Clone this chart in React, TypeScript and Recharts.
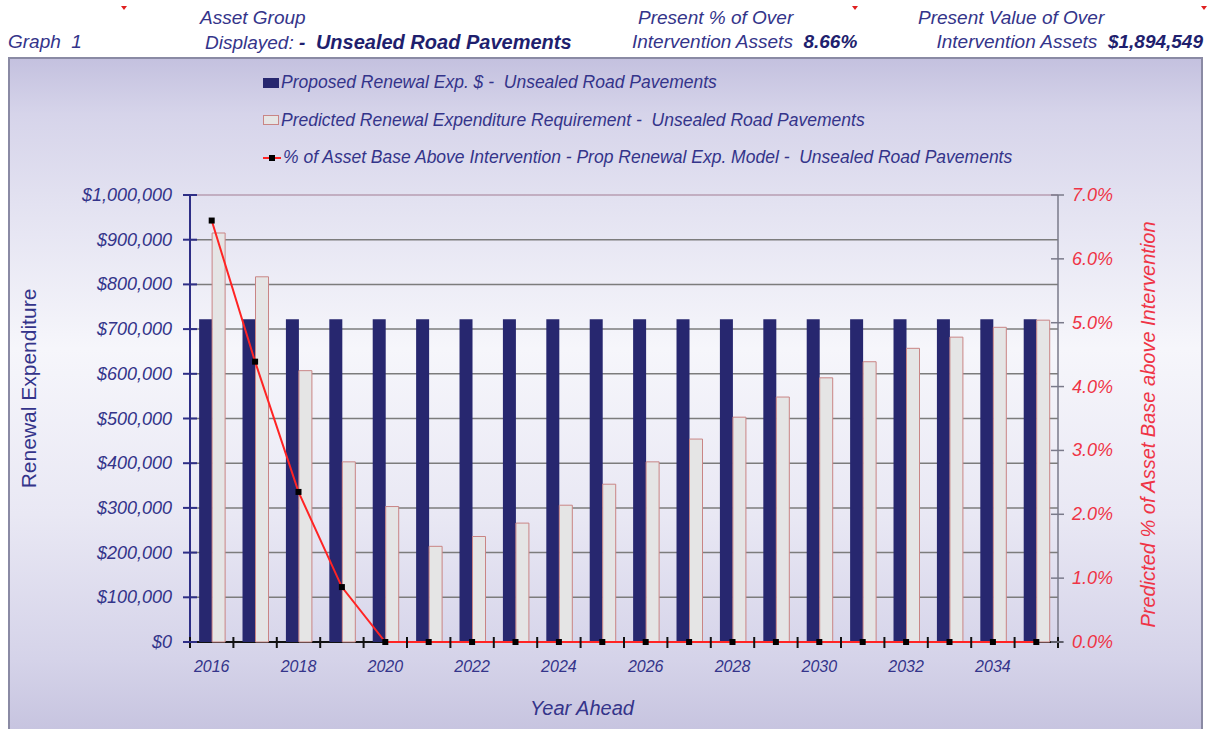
import React from 'react';
import {
  ComposedChart,
  Bar,
  Line,
  XAxis,
  YAxis,
  CartesianGrid,
  Legend,
  Label,
} from 'recharts';

// ---- data -------------------------------------------------------------
const years = [
  '2016', '2017', '2018', '2019', '2020', '2021', '2022', '2023', '2024', '2025',
  '2026', '2027', '2028', '2029', '2030', '2031', '2032', '2033', '2034', '2035',
];

// Proposed renewal expenditure ($) per year
const proposedRenewal = [
  722000, 722000, 722000, 722000, 722000, 722000, 722000, 722000, 722000, 722000,
  722000, 722000, 722000, 722000, 722000, 722000, 722000, 722000, 722000, 722000,
];

// Predicted renewal expenditure requirement ($) per year
const predictedRequirement = [
  915000, 817000, 607000, 403000, 303000, 214000, 236000, 266000, 306000, 353000,
  403000, 454000, 503000, 548000, 591000, 627000, 657000, 682000, 704000, 720000,
];

// % of asset base above intervention (proposed renewal expenditure model)
const pctAboveIntervention = [
  6.6, 4.39, 2.35, 0.86, 0, 0, 0, 0, 0, 0,
  0, 0, 0, 0, 0, 0, 0, 0, 0, 0,
];

const expenditureTicks = [0, 100000, 200000, 300000, 400000, 500000, 600000, 700000, 800000, 900000, 1000000];
const pctTicks = [0, 1, 2, 3, 4, 5, 6, 7];

const assetGroup = 'Unsealed Road Pavements';
const presentPct = '8.66%';
const presentValue = '$1,894,549';

const seriesNames = {
  proposed: `Proposed Renewal Exp. $ -  ${assetGroup}`,
  predicted: `Predicted Renewal Expenditure Requirement -  ${assetGroup}`,
  pct: `% of Asset Base Above Intervention - Prop Renewal Exp. Model -  ${assetGroup}`,
};

const rows = years.map((year, i) => ({
  year,
  proposed: proposedRenewal[i],
  predicted: predictedRequirement[i],
  pct: pctAboveIntervention[i],
}));

// ---- styles -----------------------------------------------------------
const FONT = '"Liberation Sans", Arial, Helvetica, sans-serif';
const NAVY_TEXT = '#34348a';
const NAVY_BOLD = '#1f1f6e';
const NAVY_BAR = '#27276f';
const NAVY_AXIS = '#2e2e86';
const LIGHT_BAR = '#e5e5e5';
const LIGHT_BAR_EDGE = '#c98585';
const RED = '#ff2424';
const RED_TEXT = '#ef3446';
const GRID = '#7c7c7c';
const GRID_TOP = '#b79cb2';
const BASE_LINE = '#111';

const money = (v: number) => `$${v.toLocaleString('en-US')}`;

// ---- grid: bottom line doubles as the category axis line, top line is mauve
const GridLine = (props: any) => {
  const { x1, x2, y1, y2, y, height, index } = props;
  const top = typeof y === 'number' ? y : undefined;
  const bottom = typeof y === 'number' && typeof height === 'number' ? y + height : undefined;
  const isBottom = bottom !== undefined ? Math.abs(y1 - bottom) < 1 : index === 0;
  const isTop = top !== undefined ? Math.abs(y1 - top) < 1 : index === expenditureTicks.length - 1;
  const stroke = isBottom ? BASE_LINE : isTop ? GRID_TOP : GRID;
  const extra = isBottom ? 5 : 0;
  return <line x1={x1} x2={x2 + extra} y1={y1} y2={y2} stroke={stroke} strokeWidth={isBottom ? 2 : 1.5} fill="none" />;
};

// ---- axis ticks -------------------------------------------------------
const LeftTick = (props: any) => {
  const { x, y, payload } = props;
  const axisX = x + 18;
  return (
    <g>
      <line x1={axisX - 7} x2={axisX + 7} y1={y} y2={y} stroke={NAVY_AXIS} strokeWidth={2} />
      <text x={x} y={y} dy={6} textAnchor="end" fontFamily={FONT} fontStyle="italic" fontSize={18} fill={NAVY_TEXT}>
        {money(payload.value)}
      </text>
    </g>
  );
};

const RightTick = (props: any) => {
  const { x, y, payload } = props;
  const axisX = x - 14;
  return (
    <g>
      <line x1={axisX - 7} x2={axisX + 6} y1={y} y2={y} stroke="#7a7a8a" strokeWidth={1.5} />
      <text x={x} y={y} dy={6} textAnchor="start" fontFamily={FONT} fontStyle="italic" fontSize={18} fill={RED_TEXT}>
        {`${payload.value.toFixed(1)}%`}
      </text>
    </g>
  );
};

const YearTick = (props: any) => {
  const { x, y, payload, index, width, visibleTicksCount } = props;
  const count = visibleTicksCount ?? years.length;
  const step = (width ?? 868) / count;
  const left = x - step / 2;
  const isLast = index === count - 1;
  return (
    <g>
      <line x1={left} x2={left} y1={y - 5} y2={y + 6} stroke={BASE_LINE} strokeWidth={2} />
      {isLast && <line x1={x + step / 2} x2={x + step / 2} y1={y - 5} y2={y + 6} stroke={BASE_LINE} strokeWidth={2} />}
      {index % 2 === 0 && (
        <text x={x} y={y} dy={30} textAnchor="middle" fontFamily={FONT} fontStyle="italic" fontSize={16} fill={NAVY_TEXT}>
          {payload.value}
        </text>
      )}
    </g>
  );
};

const SquareDot = (props: any) => {
  const { cx, cy, index } = props;
  if (cx == null || cy == null) return <g key={index} />;
  return <rect key={index} x={cx - 3} y={cy - 3} width={6} height={6} fill="#000" />;
};

// ---- axis titles ------------------------------------------------------
const LeftTitle = (props: any) => {
  const { viewBox } = props;
  const cx = viewBox.x + 29;
  const cy = viewBox.y + viewBox.height / 2 - 30;
  return (
    <text x={cx} y={cy} transform={`rotate(-90 ${cx} ${cy})`} textAnchor="middle" dy={7}
      fontFamily={FONT} fontSize={21} fill={NAVY_TEXT}>
      Renewal Expenditure
    </text>
  );
};

const RightTitle = (props: any) => {
  const { viewBox } = props;
  const cx = viewBox.x + 90;
  const cy = viewBox.y + viewBox.height / 2 + 6;
  return (
    <text x={cx} y={cy} transform={`rotate(-90 ${cx} ${cy})`} textAnchor="middle" dy={7}
      fontFamily={FONT} fontStyle="italic" fontSize={20} fill={RED_TEXT}>
      Predicted % of Asset Base above Intervention
    </text>
  );
};

const BottomTitle = (props: any) => {
  const { viewBox } = props;
  return (
    <text x={viewBox.x + viewBox.width / 2 - 42} y={viewBox.y + 73} textAnchor="middle"
      fontFamily={FONT} fontStyle="italic" fontSize={20} fill={NAVY_TEXT}>
      Year Ahead
    </text>
  );
};

// ---- legend -----------------------------------------------------------
const LegendContent = () => {
  const row: React.CSSProperties = { display: 'flex', alignItems: 'center', height: 37.5, whiteSpace: 'pre' };
  return (
    <div style={{ fontFamily: FONT, fontStyle: 'italic', fontSize: 17.5, color: NAVY_TEXT }}>
      <div style={row}>
        <span style={{ display: 'inline-block', width: 16, height: 10, background: NAVY_BAR, marginRight: 2 }} />
        <span>{seriesNames.proposed}</span>
      </div>
      <div style={row}>
        <span style={{ display: 'inline-block', width: 14, height: 8, background: LIGHT_BAR, border: `1px solid ${LIGHT_BAR_EDGE}`, marginRight: 2 }} />
        <span>{seriesNames.predicted}</span>
      </div>
      <div style={row}>
        <svg width={18} height={10} style={{ marginRight: 2 }}>
          <line x1={0} x2={18} y1={5} y2={5} stroke={RED} strokeWidth={2} />
          <rect x={6} y={2} width={6} height={6} fill="#000" />
        </svg>
        <span>{seriesNames.pct}</span>
      </div>
    </div>
  );
};

// ---- header -----------------------------------------------------------
const headerText: React.CSSProperties = {
  position: 'absolute',
  fontFamily: FONT,
  fontStyle: 'italic',
  fontSize: 19,
  color: NAVY_TEXT,
  whiteSpace: 'nowrap',
  lineHeight: '22px',
};
const bold: React.CSSProperties = { fontWeight: 'bold', color: NAVY_BOLD };

// small red comment markers in the header cells
const CornerMark = ({ left }: { left: number }) => (
  <div
    style={{
      position: 'absolute',
      left,
      top: 6,
      width: 0,
      height: 0,
      borderLeft: '3px solid transparent',
      borderRight: '3px solid transparent',
      borderTop: '4px solid #e02020',
    }}
  />
);

export default function App() {
  return (
    <div style={{ position: 'absolute', left: 0, top: 0, width: 1210, height: 729, overflow: 'hidden', background: '#fff' }}>
      {/* header */}
      <CornerMark left={121} />
      <CornerMark left={852} />
      <CornerMark left={1201} />
      <div style={{ ...headerText, left: 8, top: 31 }}>Graph&nbsp;&nbsp;1</div>
      <div style={{ ...headerText, left: 200, top: 7 }}>Asset Group</div>
      <div style={{ ...headerText, left: 205, top: 31 }}>
        Displayed: <span style={bold}>-&nbsp; <span style={{ fontSize: 20 }}>{assetGroup}</span></span>
      </div>
      <div style={{ ...headerText, left: 638, top: 7 }}>Present % of Over</div>
      <div style={{ ...headerText, left: 632, top: 31 }}>
        Intervention Assets&nbsp; <span style={bold}>{presentPct}</span>
      </div>
      <div style={{ ...headerText, left: 918, top: 7 }}>Present Value of Over</div>
      <div style={{ ...headerText, right: 7, top: 31 }}>
        Intervention Assets&nbsp; <span style={bold}>{presentValue}</span>
      </div>

      {/* chart frame */}
      <div
        style={{
          position: 'absolute',
          left: 8,
          top: 57,
          width: 1191,
          height: 690,
          borderTop: '2px solid #8a8aa4',
          borderLeft: '2px solid #8a8aa4',
          borderRight: '2px solid #8a8aa4',
          background:
            'linear-gradient(to bottom, #c4c1df 0%, #d6d4ea 8%, #e3e2f1 21%, #f6f6fb 42%, #e9e8f4 66%, #d5d3e9 87%, #c3c0dd 100%)',
        }}
      />

      <div style={{ position: 'absolute', left: 0, top: 0 }}>
        <ComposedChart
          width={1210}
          height={729}
          data={rows}
          margin={{ top: 195, right: 0, bottom: 27, left: 0 }}
          barCategoryGap="21%"
          barGap={0}
        >
          <CartesianGrid vertical={false} horizontal={<GridLine />} />
          <XAxis
            dataKey="year"
            interval={0}
            height={60}
            axisLine={false}
            tickLine={false}
            tickSize={0}
            tickMargin={0}
            tick={<YearTick />}
          >
            <Label content={<BottomTitle />} />
          </XAxis>
          <YAxis
            yAxisId={0}
            width={190}
            domain={[0, 1000000]}
            ticks={expenditureTicks}
            axisLine={{ stroke: NAVY_AXIS, strokeWidth: 2 }}
            tickLine={false}
            tickSize={0}
            tickMargin={18}
            tick={<LeftTick />}
          >
            <Label content={<LeftTitle />} />
          </YAxis>
          <YAxis
            yAxisId="pct"
            orientation="right"
            width={152}
            domain={[0, 7]}
            ticks={pctTicks}
            axisLine={{ stroke: '#7a7a8a', strokeWidth: 1.5 }}
            tickLine={false}
            tickSize={0}
            tickMargin={14}
            tick={<RightTick />}
          >
            <Label content={<RightTitle />} />
          </YAxis>
          <Legend
            layout="vertical"
            align="center"
            verticalAlign="middle"
            wrapperStyle={{ left: 263, top: 64 }}
            content={<LegendContent />}
          />
          <Bar dataKey="proposed" name={seriesNames.proposed} fill={NAVY_BAR} isAnimationActive={false} />
          <Bar dataKey="predicted" name={seriesNames.predicted} fill={LIGHT_BAR} stroke={LIGHT_BAR_EDGE} strokeWidth={1} isAnimationActive={false} />
          <Line
            yAxisId="pct"
            dataKey="pct"
            name={seriesNames.pct}
            stroke={RED}
            strokeWidth={2}
            dot={<SquareDot />}
            activeDot={false}
            isAnimationActive={false}
          />
        </ComposedChart>
      </div>
    </div>
  );
}
